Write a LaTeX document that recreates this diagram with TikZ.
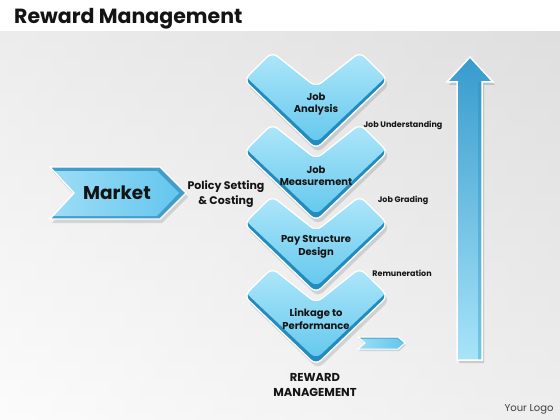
\documentclass[tikz,border=0pt]{standalone}
\usepackage{fontspec}
\setmainfont{Poppins}
\definecolor{chevtop}{RGB}{178,232,250}
\definecolor{chevbot}{RGB}{100,200,238}
\definecolor{rim}{RGB}{35,140,190}
\definecolor{txt}{RGB}{20,20,20}
\definecolor{mkin1}{RGB}{160,222,246}
\definecolor{mkin2}{RGB}{100,198,238}
\definecolor{uptop}{RGB}{55,155,205}
\definecolor{upmid}{RGB}{105,200,238}
\definecolor{upbot}{RGB}{168,228,249}
\tikzset{
  lbl/.style={text=txt,font=\bfseries\fontsize{10}{12.5}\selectfont,align=center,inner sep=0pt},
  side/.style={text=txt,font=\bfseries\fontsize{8}{9}\selectfont,inner sep=0pt},
  pics/chev/.style={code={
    \fill[black,opacity=.12,rounded corners=7pt,shift={(2,4)}] (-44,0)--(0,35)--(44,0)--(72,28)--(0,97)--(-72,28)--cycle;
    \begin{scope}
      \clip[rounded corners=7pt] (-44,0)--(0,35)--(44,0)--(72,28)--(0,97)--(-72,28)--cycle;
      \fill[rim] (-75,-2) rectangle (75,100);
      \shade[top color=chevtop,bottom color=chevbot,rounded corners=7pt] (-44,-5)--(0,30)--(44,-5)--(72,23)--(0,91)--(-72,23)--cycle;
    \end{scope}
    \draw[white,line width=1.3pt,rounded corners=7pt] (-44,0)--(0,35)--(44,0)--(72,28)--(0,97)--(-72,28)--cycle;
  }}
}
\begin{document}
\begin{tikzpicture}[x=1pt,y=-1pt]
\useasboundingbox (0,0) rectangle (560,420);
% background
\fill[white] (0,0) rectangle (560,32);
\shade[top color=gray!22,bottom color=gray!4] (0,32) rectangle (560,420);
\shade[left color=white,right color=gray!30,opacity=.35] (0,32) rectangle (560,420);
% title
\node[anchor=base west,inner sep=0pt,text=txt,font=\bfseries\fontsize{20.5}{20.5}\selectfont] (title) at (14,24) {Reward Management};
% market arrow
\fill[black,opacity=.12] (52,171)--(162,171)--(188,197)--(162,223)--(52,223)--(76,197)--cycle;
\begin{scope}
  \clip (50,167)--(160,167)--(186,193)--(160,219)--(50,219)--(74,193)--cycle;
  \fill[rim!85] (40,160) rectangle (200,225);
  \shade[left color=mkin1,right color=mkin2] (46,171)--(157,171)--(179,193)--(157,216)--(46,216)--(70,193)--cycle;
\end{scope}
\draw[white,line width=1.3pt] (50,167)--(160,167)--(186,193)--(160,219)--(50,219)--(74,193)--cycle;
\node[text=txt,inner sep=0pt,font=\bfseries\fontsize{18.5}{18.5}\selectfont] (market) at (117,193) {Market};
\node[lbl,font=\bfseries\fontsize{11}{15}\selectfont] (policy) at (226,194) {Policy Setting\\\& Costing};
% chevrons
\pic at (316,52) {chev};
\pic at (316,124) {chev};
\pic at (316,196) {chev};
\pic at (316,268) {chev};
\node[lbl] (c1) at (316,104) {Job\\Analysis};
\node[lbl] (c2) at (316,176) {Job\\Measurement};
\node[lbl] (c3) at (316,247) {Pay Structure\\Design};
\node[lbl] (c4) at (316,319) {Linkage to\\Performance};
% side labels
\node[side] (s1) at (403,125) {Job Understanding};
\node[side] (s2) at (403,200) {Job Grading};
\node[side] (s3) at (402,273) {Remuneration};
% small arrow
\fill[black,opacity=.12] (359,339)--(399,339)--(406,345)--(399,351)--(359,351)--(366,345)--cycle;
\begin{scope}
  \clip (358,337)--(398,337)--(405,343)--(398,349)--(358,349)--(365,343)--cycle;
  \fill[rim!70] (350,330) rectangle (410,355);
  \shade[left color=mkin1,right color=mkin2] (356,339)--(397,339)--(403,343)--(397,349)--(356,349)--(363,343)--cycle;
\end{scope}
\draw[white,line width=1pt] (358,337)--(398,337)--(405,343)--(398,349)--(358,349)--(365,343)--cycle;
% big up arrow
\fill[black,opacity=.14] (459,363)--(459,85)--(449,85)--(472,60)--(495,85)--(484,85)--(484,363)--cycle;
\shade[top color=uptop,middle color=upmid,bottom color=upbot] (457,360)--(457,82)--(447,82)--(470,57)--(493,82)--(482,82)--(482,360)--cycle;
\fill[rim,opacity=.35] (478,82) rectangle (482,360);
\draw[white,line width=1.5pt] (457,360)--(457,82)--(447,82)--(470,57)--(493,82)--(482,82)--(482,360)--cycle;
% bottom label
\node[lbl,font=\bfseries\fontsize{11.5}{15}\selectfont] (rm) at (315,385) {REWARD\\MANAGEMENT};
\node[inner sep=0pt,text=black!75,font=\fontsize{10}{10}\selectfont] (logo) at (529,409) {Your Logo};
\end{tikzpicture}
\end{document}
